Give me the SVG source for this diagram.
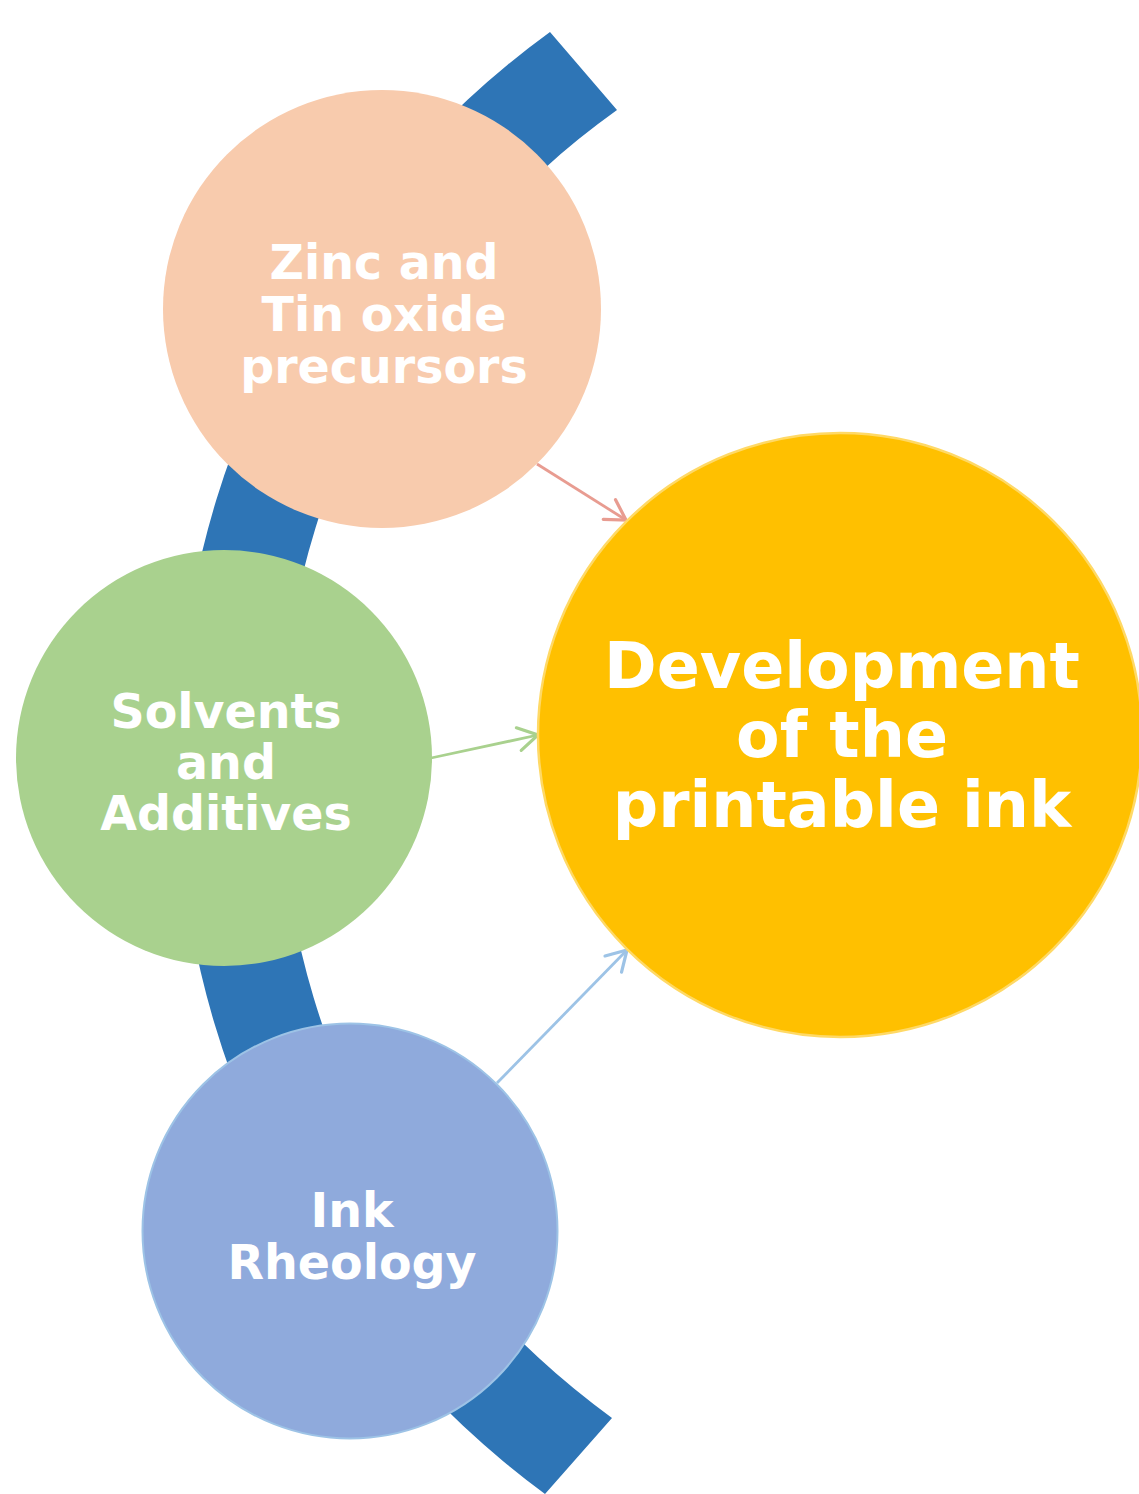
<svg xmlns="http://www.w3.org/2000/svg" width="1139" height="1494" viewBox="0 0 1139 1494">
  <style>
    .label { font-family: "DejaVu Sans", Verdana, sans-serif; font-weight: bold; fill: #FFFFFF; text-anchor: middle; }
    .small { font-size: 47.5px; }
    .big { font-size: 63.5px; }
    .link { fill: none; stroke-width: 2.8; }
    .head { fill: none; stroke-width: 2.8; stroke-linecap: round; stroke-linejoin: miter; }
  </style>
  <defs>
    <marker id="head-peach" markerUnits="userSpaceOnUse" markerWidth="30" markerHeight="30" viewBox="-20 -13 23 26" refX="0" refY="0" orient="auto">
      <path class="head" d="M -17 -10 L 0 0 L -17 10" stroke="#E89C91"/>
    </marker>
    <marker id="head-green" markerUnits="userSpaceOnUse" markerWidth="30" markerHeight="30" viewBox="-20 -13 23 26" refX="0" refY="0" orient="auto">
      <path class="head" d="M -17 -10 L 0 0 L -17 10" stroke="#A9D18E"/>
    </marker>
    <marker id="head-blue" markerUnits="userSpaceOnUse" markerWidth="30" markerHeight="30" viewBox="-20 -13 23 26" refX="0" refY="0" orient="auto">
      <path class="head" d="M -17 -10 L 0 0 L -17 10" stroke="#9DC3E6"/>
    </marker>
  </defs>

  <!-- curved band behind the input circles -->
  <path id="band" d="M 550 32 A 906 906 0 0 0 545 1494 L 612 1418 A 806 806 0 0 1 617 110 Z" fill="#2E75B6"/>

  <g id="connectors">
    <line class="link" x1="537" y1="464" x2="626" y2="520" stroke="#E89C91" marker-end="url(#head-peach)"/>
    <line class="link" x1="431" y1="758" x2="538" y2="735" stroke="#A9D18E" marker-end="url(#head-green)"/>
    <line class="link" x1="497" y1="1083" x2="627" y2="950" stroke="#9DC3E6" marker-end="url(#head-blue)"/>
  </g>

  <g id="node-precursors">
    <circle cx="382" cy="309" r="219" fill="#F8CBAD"/>
    <text class="label small" x="384" y="279">Zinc and</text>
    <text class="label small" x="384" y="331">Tin oxide</text>
    <text class="label small" x="384" y="383">precursors</text>
  </g>

  <g id="node-solvents">
    <circle cx="224" cy="758" r="208" fill="#A9D18E"/>
    <text class="label small" x="226" y="728">Solvents</text>
    <text class="label small" x="226" y="779">and</text>
    <text class="label small" x="226" y="830">Additives</text>
  </g>

  <g id="node-rheology">
    <circle cx="350" cy="1231" r="207.5" fill="#8FAADC" stroke="#9DC3E6" stroke-width="2"/>
    <text class="label small" x="352" y="1227">Ink</text>
    <text class="label small" x="352" y="1279">Rheology</text>
  </g>

  <g id="node-ink">
    <circle cx="840" cy="735" r="302" fill="#FFC000" stroke="#FFD966" stroke-width="2.5"/>
    <text class="label big" x="842" y="688">Development</text>
    <text class="label big" x="842" y="757">of the</text>
    <text class="label big" x="842" y="827">printable ink</text>
  </g>
</svg>
